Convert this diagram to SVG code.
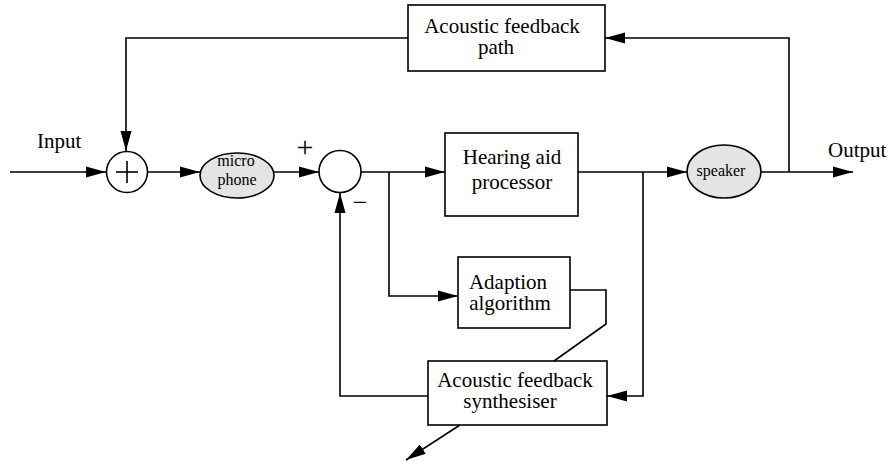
<svg xmlns="http://www.w3.org/2000/svg" width="890" height="461" viewBox="0 0 890 461">
<style>
.box{fill:#fff;stroke:#000;stroke-width:1.6}
.ell{fill:#e4e4e4;stroke:#000;stroke-width:1.6}
.ln{fill:none;stroke:#000;stroke-width:1.6}
text{font-family:"Liberation Serif","Times New Roman",serif;fill:#000}
.t{font-size:21px;text-anchor:middle}
.s{font-size:16px;text-anchor:middle}
</style>
<defs>
<marker id="ah" markerUnits="userSpaceOnUse" markerWidth="22" markerHeight="12" refX="20" refY="6" orient="auto">
<path d="M0,0.5 L20,6 L0,11.5 Z" fill="#000"/>
</marker>
</defs>
<g id="connectors">
<line class="ln" x1="10" y1="172" x2="106" y2="172" marker-end="url(#ah)"/>
<polyline class="ln" points="408,38 126,38 126,151" marker-end="url(#ah)"/>
<line class="ln" x1="148" y1="172" x2="200" y2="172" marker-end="url(#ah)"/>
<line class="ln" x1="274" y1="172" x2="319" y2="172" marker-end="url(#ah)"/>
<line class="ln" x1="361" y1="172" x2="445" y2="172" marker-end="url(#ah)"/>
<polyline class="ln" points="389,172 389,296 458,296" marker-end="url(#ah)"/>
<line class="ln" x1="578" y1="172" x2="687" y2="172" marker-end="url(#ah)"/>
<polyline class="ln" points="643,172 643,396 607,396" marker-end="url(#ah)"/>
<line class="ln" x1="761" y1="172" x2="853" y2="172" marker-end="url(#ah)"/>
<polyline class="ln" points="789,172 789,38 605,38" marker-end="url(#ah)"/>
<polyline class="ln" points="428,396 340,396 340,193" marker-end="url(#ah)"/>
<polyline class="ln" points="570,290 606,290 606,324 554,361"/>
<line class="ln" x1="460" y1="425" x2="406" y2="460" marker-end="url(#ah)"/>
</g>
<g id="feedback-path">
<rect class="box" x="408" y="5" width="197" height="66"/>
<text class="t" x="502" y="33">Acoustic feedback</text>
<text class="t" x="496" y="54">path</text>
</g>
<g id="input-label"><text x="37" y="148" font-size="21">Input</text></g>
<g id="sum">
<circle class="box" cx="127" cy="172" r="20.5"/>
<line class="ln" x1="116" y1="172" x2="138" y2="172"/>
<line class="ln" x1="127" y1="161" x2="127" y2="183"/>
</g>
<g id="microphone">
<ellipse class="ell" cx="237" cy="175.5" rx="37" ry="22.5"/>
<text class="s" x="236" y="166">micro</text>
<text class="s" x="237" y="185">phone</text>
</g>
<g id="subtract">
<circle class="box" cx="340" cy="171.5" r="21"/>
<text x="305" y="157" font-size="30" text-anchor="middle">+</text>
<text x="360" y="211" font-size="26" text-anchor="middle">−</text>
</g>
<g id="hearing-aid">
<rect class="box" x="445" y="133" width="133" height="83"/>
<text class="t" x="512" y="164">Hearing aid</text>
<text class="t" x="512" y="189">processor</text>
</g>
<g id="adaption">
<rect class="box" x="458" y="257" width="112" height="71"/>
<text class="t" x="508" y="289">Adaption</text>
<text class="t" x="510" y="310">algorithm</text>
</g>
<g id="synthesiser">
<rect class="box" x="428" y="361" width="179" height="64"/>
<text class="t" x="515" y="387">Acoustic feedback</text>
<text class="t" x="510" y="408">synthesiser</text>
</g>
<g id="speaker">
<ellipse class="ell" cx="724" cy="171.5" rx="37" ry="26.5"/>
<text class="s" x="721" y="176">speaker</text>
</g>
<g id="output-label"><text x="828" y="157" font-size="21">Output</text></g>
</svg>
